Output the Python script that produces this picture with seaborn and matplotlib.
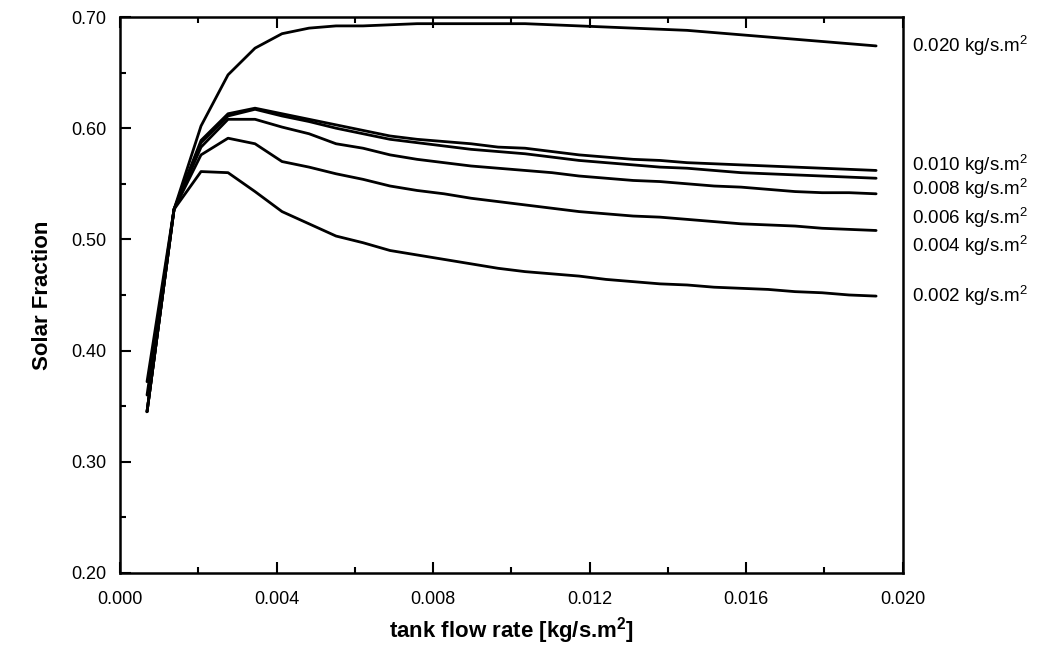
import numpy as np
import pandas as pd
import matplotlib
matplotlib.use("Agg")
import matplotlib.pyplot as plt
from matplotlib.ticker import MultipleLocator
import seaborn as sns

# tank flow rate [kg/s.m2]
flow = [0.00069, 0.00138, 0.00207, 0.00276, 0.00345, 0.00414, 0.00483,
        0.00552, 0.00621, 0.00690, 0.00759, 0.00828, 0.00897, 0.00966,
        0.01035, 0.01104, 0.01173, 0.01242, 0.01311, 0.01380, 0.01449,
        0.01518, 0.01587, 0.01656, 0.01725, 0.01794, 0.01863, 0.01932]

# solar fraction per collector flow rate
sf_020 = [0.345, 0.527, 0.602, 0.648, 0.672, 0.685, 0.690, 0.692, 0.692, 0.693,
          0.694, 0.694, 0.694, 0.694, 0.694, 0.693, 0.692, 0.691, 0.690, 0.689,
          0.688, 0.686, 0.684, 0.682, 0.680, 0.678, 0.676, 0.674]
sf_010 = [0.345, 0.527, 0.589, 0.613, 0.618, 0.613, 0.608, 0.603, 0.598, 0.593,
          0.590, 0.588, 0.586, 0.583, 0.582, 0.579, 0.576, 0.574, 0.572, 0.571,
          0.569, 0.568, 0.567, 0.566, 0.565, 0.564, 0.563, 0.562]
sf_008 = [0.345, 0.527, 0.587, 0.611, 0.617, 0.611, 0.606, 0.600, 0.595, 0.590,
          0.587, 0.584, 0.581, 0.579, 0.577, 0.574, 0.571, 0.569, 0.567, 0.565,
          0.564, 0.562, 0.560, 0.559, 0.558, 0.557, 0.556, 0.555]
sf_006 = [0.345, 0.527, 0.583, 0.608, 0.608, 0.601, 0.595, 0.586, 0.582, 0.576,
          0.572, 0.569, 0.566, 0.564, 0.562, 0.560, 0.557, 0.555, 0.553, 0.552,
          0.550, 0.548, 0.547, 0.545, 0.543, 0.542, 0.542, 0.541]
sf_004 = [0.360, 0.527, 0.576, 0.591, 0.586, 0.570, 0.565, 0.559, 0.554, 0.548,
          0.544, 0.541, 0.537, 0.534, 0.531, 0.528, 0.525, 0.523, 0.521, 0.520,
          0.518, 0.516, 0.514, 0.513, 0.512, 0.510, 0.509, 0.508]
sf_002 = [0.372, 0.527, 0.561, 0.560, 0.543, 0.525, 0.514, 0.503, 0.497, 0.490,
          0.486, 0.482, 0.478, 0.474, 0.471, 0.469, 0.467, 0.464, 0.462, 0.460,
          0.459, 0.457, 0.456, 0.455, 0.453, 0.452, 0.450, 0.449]

series_names = ["0.020", "0.010", "0.008", "0.006", "0.004", "0.002"]
series_vals = [sf_020, sf_010, sf_008, sf_006, sf_004, sf_002]
# y position of the curve labels on the right
label_y = [0.674, 0.567, 0.546, 0.520, 0.494, 0.449]

frames = []
for name, vals in zip(series_names, series_vals):
    frames.append(pd.DataFrame({"flow": flow, "sf": vals, "coll": name}))
df = pd.concat(frames, ignore_index=True)

sns.set_style("ticks")
plt.rcParams["font.family"] = ["Liberation Sans", "DejaVu Sans"]
plt.rcParams["mathtext.fontset"] = "custom"
plt.rcParams["mathtext.rm"] = "Liberation Sans"
plt.rcParams["mathtext.bf"] = "Liberation Sans:bold"
plt.rcParams["text.color"] = "black"
plt.rcParams["axes.labelcolor"] = "black"

fig = plt.figure(figsize=(10.4, 6.67), dpi=100)
ax = fig.add_axes([0.1154, 0.141, 0.7526, 0.8335])

sns.lineplot(data=df, x="flow", y="sf", hue="coll",
             palette=["black"] * len(series_names),
             linewidth=2.0, legend=False, ax=ax, sort=False)

ax.set_xlim(0, 0.020)
ax.set_ylim(0.20, 0.70)
ax.xaxis.set_major_locator(MultipleLocator(0.004))
ax.xaxis.set_minor_locator(MultipleLocator(0.002))
ax.yaxis.set_major_locator(MultipleLocator(0.10))
ax.yaxis.set_minor_locator(MultipleLocator(0.05))
ax.xaxis.set_major_formatter(plt.FormatStrFormatter("%.3f"))
ax.yaxis.set_major_formatter(plt.FormatStrFormatter("%.2f"))

ax.tick_params(which="both", direction="in", top=True, right=False,
               width=1.5, labelsize=13, colors="black")
ax.tick_params(which="major", length=8)
ax.tick_params(which="minor", length=4)
ax.tick_params(axis="x", which="major", pad=13)
ax.tick_params(axis="y", which="major", pad=10)
for sp in ax.spines.values():
    sp.set_linewidth(1.8)
    sp.set_color("black")
    sp.set_visible(True)

ax.set_xlabel("tank flow rate [kg/s.m$^{\\mathbf{2}}$]", fontsize=16,
              fontweight="bold")
ax.set_ylabel("Solar Fraction", fontsize=16, fontweight="bold")
ax.xaxis.set_label_coords(0.5, -0.075)
ax.yaxis.set_label_coords(-0.085, 0.5)

for name, yy in zip(series_names, label_y):
    ax.text(1.012, yy, f"{name} kg/s.m$^{{2}}$", transform=ax.get_yaxis_transform(),
            fontsize=13.5, va="center", ha="left")

fig.savefig("out.png", dpi=100)
